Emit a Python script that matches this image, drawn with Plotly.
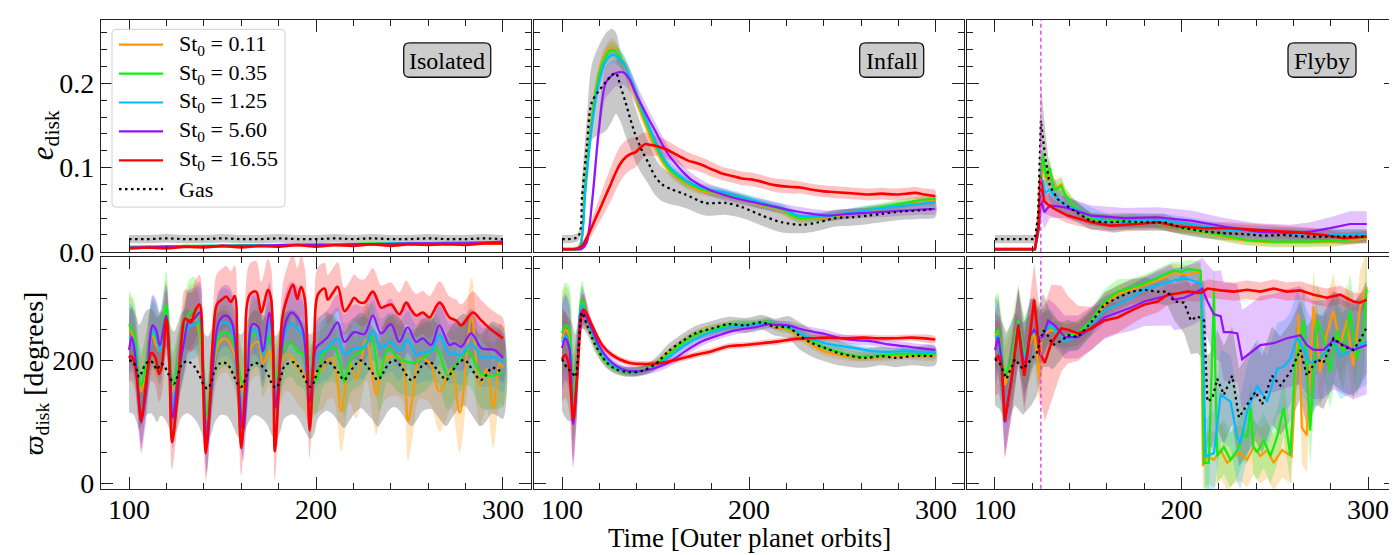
import plotly.graph_objects as go

W, H = 1397, 555

# ---------------- series meta ----------------
names = ["St<sub>0</sub> = 0.11", "St<sub>0</sub> = 0.35", "St<sub>0</sub> = 1.25",
         "St<sub>0</sub> = 5.60", "St<sub>0</sub> = 16.55", "Gas"]
line_colors = ['#ff9900', '#11ee11', '#00bbff', '#9411ff', '#ff0000', '#000000']
band_colors = ['rgba(255,153,0,0.25)', 'rgba(17,238,17,0.25)', 'rgba(0,187,255,0.25)',
               'rgba(148,17,255,0.25)', 'rgba(255,0,0,0.24)', 'rgba(110,110,110,0.38)']

# ================= Isolated, e_disk =================
iso_e_t = [100,110,120,130,140,150,160,170,180,190,200,210,220,230,240,250,260,270,280,290,300]
iso_e_orange = [0.004,0.005,0.005,0.006,0.006,0.006,0.007,0.007,0.007,0.008,0.008,0.008,0.008,0.009,0.009,0.009,0.009,0.010,0.010,0.010,0.010]
iso_e_green  = [0.006,0.006,0.006,0.007,0.007,0.007,0.008,0.008,0.008,0.009,0.009,0.009,0.009,0.010,0.010,0.010,0.010,0.011,0.011,0.011,0.011]
iso_e_cyan   = [0.005,0.006,0.006,0.006,0.007,0.007,0.007,0.008,0.008,0.008,0.009,0.009,0.009,0.009,0.010,0.010,0.010,0.010,0.011,0.011,0.011]
iso_e_purple = [0.005,0.005,0.006,0.006,0.006,0.007,0.007,0.007,0.008,0.008,0.008,0.008,0.009,0.009,0.009,0.010,0.010,0.010,0.010,0.011,0.012]
iso_e_red    = [0.004,0.005,0.004,0.006,0.005,0.007,0.005,0.007,0.006,0.008,0.006,0.008,0.007,0.009,0.007,0.009,0.008,0.009,0.008,0.010,0.010]
iso_e_gas    = [0.015,0.015,0.016,0.015,0.015,0.016,0.015,0.015,0.016,0.015,0.015,0.016,0.015,0.016,0.015,0.015,0.016,0.015,0.015,0.016,0.015]
iso_e_sd     = [0.0015,0.0015,0.0015,0.0015,0.0015,0.0015,0.0015,0.0015,0.0015,0.0015,0.0015,0.0015,0.0015,0.0015,0.0015,0.0015,0.0015,0.0015,0.0015,0.0015,0.0015]
iso_e_gas_sd = [0.005,0.005,0.005,0.005,0.005,0.005,0.005,0.005,0.005,0.005,0.005,0.005,0.005,0.005,0.005,0.005,0.005,0.005,0.005,0.005,0.005]

# ================= Infall, e_disk =================
inf_e_t1 = [100,104,108,110,112.5,116,119.6,123.2,125.8,128,130.3,133,135.7,138.5,141,144.5,148,150.8,153.5,158.8,
            166,174.9,185.6,196.3,207,217.6,226.6,235.5,244.4,253.3,261,269.3,276,283.6,291,299.6]
inf_e_orange = [0.003,0.003,0.003,0.010,0.085,0.162,0.212,0.235,0.243,0.242,0.232,0.222,0.205,0.190,0.172,0.152,0.133,0.120,0.108,0.093,
                0.081,0.072,0.068,0.062,0.055,0.049,0.039,0.040,0.041,0.045,0.048,0.051,0.054,0.057,0.059,0.061]
inf_e_green  = [0.003,0.003,0.003,0.009,0.080,0.158,0.208,0.232,0.239,0.239,0.233,0.224,0.209,0.194,0.177,0.156,0.137,0.123,0.111,0.095,
                0.083,0.074,0.069,0.063,0.056,0.050,0.040,0.041,0.042,0.046,0.049,0.052,0.055,0.058,0.061,0.063]
inf_e_cyan   = [0.003,0.003,0.003,0.008,0.072,0.150,0.200,0.226,0.233,0.234,0.230,0.223,0.210,0.196,0.180,0.160,0.141,0.127,0.114,0.098,
                0.085,0.076,0.071,0.065,0.058,0.052,0.043,0.042,0.043,0.046,0.049,0.051,0.053,0.055,0.057,0.059]
inf_e_sd1    = [0.002,0.002,0.002,0.004,0.008,0.010,0.010,0.010,0.010,0.010,0.010,0.010,0.010,0.009,0.009,0.008,0.008,0.007,0.007,0.006,
                0.006,0.005,0.005,0.005,0.005,0.005,0.005,0.005,0.005,0.005,0.005,0.005,0.005,0.005,0.005,0.005]
inf_e_tp = [100,108,110,113,116,119.6,123.2,126,128.5,133,136,139.2,142.8,146.3,150,153.5,157,160.6,165,169.5,
            178.4,189,199.8,210.5,223,233.7,242.6,253.3,261,269.3,276,283.6,291,299.6]
inf_e_purple = [0.003,0.003,0.003,0.010,0.058,0.143,0.200,0.208,0.212,0.213,0.205,0.189,0.173,0.158,0.143,0.128,0.115,0.105,0.094,0.085,
                0.074,0.066,0.060,0.055,0.049,0.045,0.043,0.045,0.046,0.047,0.048,0.049,0.050,0.051]
inf_e_purple_sd = [0.002,0.002,0.002,0.004,0.012,0.016,0.018,0.018,0.016,0.015,0.014,0.013,0.012,0.011,0.010,0.010,0.009,0.009,0.008,0.008,
                   0.007,0.007,0.006,0.006,0.006,0.006,0.006,0.006,0.006,0.006,0.006,0.006,0.006,0.006]
inf_e_tr = [100,105,108,110.7,114,117.8,120.5,123.2,126,128.5,131,133.9,136.5,139.2,142,144.6,147,149.9,155.3,160.6,
            164,167.7,171,174.9,180,185.6,191,196.3,201,207,212,217.6,223,228.3,233,239,245,251.5,258,264,
            271,278.3,284,288.9,294,299.6]
inf_e_red = [0.003,0.003,0.004,0.007,0.020,0.039,0.052,0.066,0.080,0.093,0.104,0.112,0.116,0.118,0.124,0.128,0.127,0.126,0.122,0.116,
             0.112,0.108,0.106,0.103,0.098,0.093,0.090,0.087,0.086,0.083,0.080,0.078,0.077,0.076,0.074,0.072,0.071,0.070,0.069,0.068,
             0.069,0.068,0.069,0.070,0.068,0.066]
inf_e_red_sd = [0.002,0.002,0.002,0.004,0.008,0.012,0.015,0.018,0.020,0.021,0.021,0.020,0.019,0.018,0.016,0.014,0.013,0.012,0.011,0.010,
                0.010,0.010,0.009,0.009,0.009,0.008,0.008,0.008,0.008,0.008,0.008,0.008,0.008,0.007,0.007,0.007,0.007,0.007,0.007,0.007,
                0.007,0.007,0.007,0.007,0.007,0.007]
inf_e_tg = [100,108.6,110.7,113.4,116,123.2,126.7,128.9,131.2,133.9,136.5,139.2,142.8,146.3,149.9,153.5,158.8,166,176.6,187.3,
            196.3,207,217.6,228.3,237.3,246.2,255.1,264,271.1,281.8,290.7,299.6]
inf_e_gas = [0.015,0.018,0.066,0.128,0.178,0.201,0.210,0.212,0.197,0.178,0.158,0.139,0.120,0.105,0.089,0.080,0.074,0.068,0.058,0.058,
             0.053,0.043,0.035,0.032,0.035,0.040,0.041,0.043,0.045,0.048,0.049,0.051]
inf_e_gas_sd = [0.005,0.005,0.020,0.035,0.045,0.058,0.055,0.048,0.042,0.040,0.035,0.032,0.028,0.025,0.022,0.020,0.018,0.016,0.015,0.014,
                0.013,0.012,0.012,0.010,0.010,0.010,0.010,0.010,0.010,0.010,0.010,0.010]

# ================= Flyby, e_disk =================
fly_e_tg = [100,121.4,123.1,124.6,125.3,127,129.4,133.8,140.9,151.6,160.5,169.4,180,190.7,201.4,212.1,222.8,233.5,244.1,254.8,
            265.5,276.2,286.8,299.3]
fly_e_gas = [0.015,0.015,0.043,0.156,0.143,0.112,0.078,0.062,0.051,0.036,0.035,0.036,0.035,0.035,0.028,0.024,0.022,0.021,0.019,0.020,
             0.018,0.018,0.018,0.018]
fly_e_gas_sd = [0.005,0.005,0.015,0.045,0.040,0.030,0.020,0.015,0.012,0.010,0.010,0.010,0.010,0.010,0.008,0.008,0.008,0.008,0.008,0.008,
                0.008,0.008,0.008,0.008]
fly_e_t1 = [100,121.4,123.5,125,125.8,126.5,127.5,129.4,130.5,132,133.5,135.6,137.5,141,146,151.6,160.3,170.9,185,196,
            210.3,224.5,235.2,249.4,267.2,281.5,292,299.3]
fly_e_green  = [0.003,0.003,0.030,0.100,0.116,0.100,0.089,0.100,0.085,0.074,0.075,0.078,0.068,0.058,0.047,0.039,0.037,0.036,0.035,0.030,
                0.024,0.018,0.014,0.012,0.012,0.013,0.015,0.018]
fly_e_orange = [0.003,0.003,0.028,0.090,0.105,0.095,0.085,0.095,0.083,0.075,0.077,0.080,0.068,0.058,0.047,0.039,0.037,0.036,0.035,0.030,
                0.024,0.017,0.013,0.011,0.011,0.012,0.014,0.016]
fly_e_sd1 = [0.002,0.002,0.008,0.015,0.015,0.014,0.013,0.013,0.012,0.011,0.010,0.010,0.009,0.008,0.008,0.007,0.007,0.007,0.007,0.007,
             0.006,0.006,0.006,0.006,0.006,0.006,0.006,0.006]
fly_e_tc = [100,121.4,123.5,125,125.8,127,129.4,133.8,138,151.6,160,164,172,180,190,201,212,225,240,255,270,285,299.3]
fly_e_cyan = [0.003,0.003,0.025,0.080,0.085,0.070,0.074,0.062,0.055,0.043,0.036,0.032,0.036,0.037,0.037,0.034,0.030,0.026,0.024,0.022,
              0.021,0.020,0.020]
fly_e_cyan_sd = [0.002,0.002,0.008,0.015,0.015,0.014,0.012,0.010,0.010,0.010,0.010,0.010,0.009,0.008,0.008,0.008,0.008,0.007,0.007,0.007,
                 0.007,0.007,0.007]
fly_e_tp = [100,121.4,123.5,124.8,126.4,129.4,137,151.6,169.4,187.2,205,222.8,240.6,258.4,269,279.7,290.4,299.3]
fly_e_purple = [0.003,0.003,0.030,0.062,0.047,0.055,0.053,0.043,0.040,0.041,0.037,0.030,0.024,0.022,0.024,0.028,0.033,0.033]
fly_e_purple_sd = [0.002,0.002,0.010,0.020,0.020,0.015,0.013,0.012,0.012,0.012,0.012,0.010,0.010,0.010,0.011,0.013,0.015,0.015]
fly_e_tr = [100,121.4,123.3,124.4,126.4,129,132,139,151.6,162.3,176.5,187.2,197.8,212,226,240.6,251.2,262,276,287,299.3]
fly_e_red = [0.003,0.003,0.030,0.089,0.060,0.055,0.051,0.043,0.035,0.031,0.033,0.035,0.030,0.028,0.028,0.026,0.024,0.023,0.020,0.016,0.018]
fly_e_red_sd = [0.002,0.002,0.010,0.020,0.015,0.012,0.010,0.009,0.008,0.008,0.008,0.008,0.007,0.007,0.007,0.007,0.007,0.007,0.007,0.007,0.007]

# ================= Isolated, varpi_disk =================
iso_w_t1 = [100,101.5,103,105.5,106.5,109,112.7,114.5,116.5,119.8,121.5,123.4,126,129.6,132,135,137.7,139.5,141.6,144,
            148.4,152,155,158,161,163.5,166,169,171.6,175,176.5,178.4,181,184.1,187,190,193,196.6,200,203.4,
            206.3,211.6,215.2,220.5,225.9,230.4,234.8,240,244.6,249,253.6,257,261.6,266,271.4,274,277.7,283,288.4,292,
            295.5,300]
iso_w_purple = [217,238,215,123,99,149,257,249,225,273,210,107,170,233,265,268,278,190,65,150,
                265,273,262,180,86,180,259,255,215,278,250,123,200,265,278,270,250,133,220,230,
                238,262,230,246,243,273,244,259,230,254,230,236,225,257,225,228,222,244,220,218,
                217,204]
iso_w_purple_sd = [50,50,50,50,50,50,50,50,50,50,50,50,50,50,50,50,50,50,50,50,
                   50,50,50,50,50,50,50,50,50,50,50,50,50,50,50,50,50,50,45,45,
                   45,45,45,45,45,42,42,42,42,42,40,40,40,40,40,40,40,40,40,40,
                   40,40]
iso_w_cyan = [238,235,225,140,120,160,250,240,215,265,215,120,175,230,255,258,265,190,75,160,
              258,262,250,185,100,185,250,245,210,262,240,140,200,250,260,252,240,150,205,215,
              220,236,210,220,222,249,220,230,215,233,210,214,215,241,210,212,208,228,205,205,
              205,196]
iso_w_cyan_sd = [55,55,55,55,55,55,55,55,55,55,55,55,55,55,55,55,55,55,55,55,
                 55,55,55,55,55,55,55,55,55,55,55,55,55,55,55,55,55,55,50,50,
                 50,50,50,50,50,48,48,48,48,48,48,48,48,48,48,48,48,48,48,48,
                 48,48]
iso_w_to = [100,101.5,103,105.5,106.5,109,112.7,114.5,116.5,119.8,121.5,123.4,126,129.6,132,135,137.7,139.5,141.6,144,
            148.4,152,155,158,161,163.5,166,169,171.6,175,176.5,178.4,181,184.1,187,190,193,196.6,
            200,203.7,206,209,213.5,218,221.5,226.9,232.3,235.8,240.3,245.7,249.2,251.9,255.5,260.8,266.2,272.4,276.9,283.2,
            287.6,291.2,294.8,298.3,300]
iso_w_orange = [250,245,230,160,150,185,240,225,215,275,220,150,185,235,265,270,240,190,105,165,
                230,235,220,190,150,195,225,230,195,215,200,150,190,210,205,190,180,160,
                180,186,200,203,117,196,170,233,144,196,207,202,102,143,202,196,149,186,115,270,
                159,186,123,196,188]
iso_w_orange_sd = [55,55,55,55,55,55,55,55,55,55,55,55,55,55,55,55,55,55,55,55,
                   55,55,55,55,55,55,55,55,55,55,60,60,60,60,60,60,60,60,
                   65,65,65,65,65,65,65,65,65,65,65,65,65,65,65,65,65,65,65,65,
                   65,65,65,65,65]
iso_w_tg = [100,101.5,103,105.5,106.5,109,112.7,114.5,116.5,119.8,121.5,123.4,126,129.6,132,135,137.7,139.5,141.6,144,
            148.4,152,155,158,161,163.5,166,169,171.6,175,176.5,178.4,181,184.1,187,190,193,196.6,
            200,204.5,209.8,212.5,215.2,218.8,224,229.5,233.9,238.4,243.8,248,252.7,258,264.3,270.5,275,281.3,288.4,293.8,300]
iso_w_green = [259,250,240,170,159,190,244,235,225,290,230,159,190,240,275,281,250,200,109,170,
               240,245,235,200,160,200,240,244,210,240,225,170,200,225,228,215,210,175,
               167,215,220,200,165,204,215,238,173,220,204,198,196,205,220,175,194,215,178,175,180]
iso_w_green_sd = [55,55,55,55,55,55,55,55,55,55,55,55,55,55,55,55,55,55,55,55,
                  55,55,55,55,55,55,55,55,55,55,55,55,55,55,55,55,55,55,
                  55,55,55,55,55,55,55,55,55,55,55,55,55,55,55,55,55,55,55,55,55]
iso_w_tr = [100,101,103,105.5,106.5,108,110,112,114,116,117.5,120,121.5,123,125.5,128,130,133,135.5,137.7,
            139.5,141,143,145,147,150,152,154.5,156.5,158,160,162,164.5,168,170.7,174.3,176,178,180,182,
            184,187.7,190,192,194,196.6,199,201,204.6,206.3,209,211.6,215.2,218,220.5,223,225.9,230.4,234.8,237,
            240.2,244.6,248.2,251,253.6,257.1,260.7,266.1,271.4,275,277.7,283.9,288.4,292.9,296.4,300]
iso_w_red = [204,207,196,128,101,133,185,212,205,178,190,267,200,67,130,230,268,262,282,291,
             170,49,120,240,291,300,304,295,305,200,57,150,307,312,278,315,300,52,150,270,
             296,323,300,320,300,86,220,307,317,299,310,320,280,290,302,295,294,312,286,288,
             291,275,294,282,273,278,270,294,270,265,257,278,265,252,244,236]
iso_w_red_sd = [40,40,42,45,45,45,45,45,45,45,45,48,48,45,45,48,48,48,48,48,
                45,45,45,48,50,50,50,50,50,45,45,45,50,50,50,50,50,45,45,48,
                50,50,50,50,50,45,45,45,42,40,40,40,38,38,38,38,38,38,36,36,
                36,36,36,35,35,35,35,35,34,34,34,34,33,33,33,33]
iso_w_tgas = [100,102,104,105.4,107,109,111.6,113,115,117,119,121,124,126,128,131,133,135,137,140,
              142,144,146,149,152,154,156,158,160,162,164,167,170,172,174,176,178.6,181,183,186,
              188,191,194,197,199,201,204,206,209,212,215,218,221,224,227,230,233,236,239,242,
              245,248,251,254,257,261.6,264,267,269.6,272,276,279.5,282,285,288,291,294,297,300]
iso_w_gas = [200,198,185,173,182,195,199,195,185,195,190,178,162,175,192,199,196,190,180,160,
             154,165,185,196,195,188,175,162,157,168,185,196,193,188,180,165,155,170,190,196,
             197,188,170,157,165,185,195,198,192,180,168,180,193,200,192,180,168,180,195,200,
             192,178,168,178,192,196,188,176,168,178,195,201,192,178,168,176,188,185,180]
iso_w_gas_sd = [85,85,85,85,85,85,85,85,85,85,85,85,85,85,85,85,85,85,85,85,
                 85,85,85,85,85,85,85,85,85,85,85,85,85,85,85,85,85,85,85,85,
                 85,85,85,85,85,80,80,80,80,80,78,78,78,78,78,76,76,76,76,76,
                 75,75,75,75,75,75,75,75,75,75,75,75,75,75,75,75,75,75,75]

# ================= Infall, varpi_disk =================
inf_w_t = [100,101.8,103.9,105.9,108,110.7,115.1,119.6,124.9,132,139.2,148.1,157,166,174.9,183.8,192.7,203.4,210.5,214,
           221.2,226.6,233.7,240.8,247.9,256.9,265.8,274.7,283.6,290.7,299.6]
inf_w_orange = [235,250,240,140,190,292,250,218,195,183,182,190,212,233,247,254,258,258,262,255,
                250,240,225,214,209,205,205,206,208,207,207]
inf_w_green  = [244,257,250,136,190,299,250,215,194,183,182,190,210,232,246,253,259,260,263,258,
                252,245,232,220,214,207,207,209,211,210,210]
inf_w_cyan   = [230,240,225,113,180,290,255,222,198,184,182,188,205,225,240,250,256,258,260,258,
                255,245,235,228,224,220,215,214,215,214,212]
inf_w_purple = [220,236,220,96,170,281,257,225,202,186,182,186,196,215,231,241,249,254,259,258,
                257,252,247,243,237,233,231,226,223,220,217]
inf_w_sd = [70,70,70,70,60,30,12,10,8,7,7,7,7,7,7,7,7,7,7,7,7,7,7,7,7,7,7,7,7,7,7]
inf_w_tr = [100,101.8,103.6,105.9,108,111.6,116,121.4,126.7,135.7,144.6,153.5,162.4,171.3,180.2,189.1,198,206.9,215.9,224.8,
            233.7,242.6,251.5,260.4,269.3,278.3,287.2,299.6]
inf_w_red = [202,209,192,104,170,283,257,225,209,196,194,196,202,209,215,223,225,228,231,235,
             236,237,236,237,236,236,237,234]
inf_w_red_sd = [70,70,70,70,60,25,8,6,5,5,5,5,5,5,5,5,5,5,5,5,5,5,5,5,5,5,5,5]
inf_w_tg = [100,102.7,105.3,107,108.9,110.7,113.4,117.8,123.2,128.5,135.7,142.8,149.9,157,164.2,171.3,180.2,189.1,198,206.9,
            214.1,221.2,226.6,233.7,240.8,247.9,255.1,262.2,271.1,278.3,287.2,299.6]
inf_w_gas = [202,188,181,173,220,278,257,225,199,186,181,183,194,215,231,244,252,259,257,262,
             254,254,241,228,220,212,207,204,207,204,207,207]
inf_w_gas_sd = [85,85,80,70,50,25,15,12,10,8,8,8,10,12,12,12,12,12,12,12,14,18,22,22,22,20,18,16,15,15,15,15]

# ================= Flyby, varpi_disk =================
fly_w_tr = [100,101.8,103.6,105.3,108.9,112.5,115.7,118.7,121,124,126.7,130.2,135.6,139.1,144.5,151.6,158.7,165.8,173,180.1,
            187.2,192.5,197.8,203.2,210.3,213.9,221,228.1,235.2,242.3,249.4,256.6,263.7,270.8,277.9,285,292.1,295.7,299.3]
fly_w_red = [202,207,191,102,170,257,175,240,299,212,196,228,252,250,244,252,265,270,281,291,
             296,307,309,312,310,317,314,312,315,312,317,312,314,307,302,307,296,294,299]
fly_w_red_sd = [60,60,60,60,60,60,60,60,60,70,95,95,70,55,45,35,28,25,22,20,
                18,17,16,15,15,15,15,15,15,15,15,15,15,15,15,15,15,15,15]
fly_w_tp = [100,101.8,103.6,105.3,108.9,112.5,115.7,118.7,121,124,126,128.5,132,137.4,144.5,151.6,158.7,165.8,173,180.1,
            187.2,194.3,196,201.4,206.7,211.2,213.9,217.4,221,222.7,226.3,229.9,232.5,237,242.3,249.4,256.6,263.7,267.2,270.8,
            276.1,281.5,286.8,292.1,299.3]
fly_w_purple = [217,238,200,99,170,259,186,240,250,235,240,265,257,238,238,252,270,278,286,296,
                302,307,299,302,309,317,296,275,272,246,246,244,202,212,225,228,236,241,225,217,
                217,233,225,217,225]
fly_w_purple_sd = [60,60,60,60,60,60,60,60,50,40,35,35,35,35,35,35,35,35,38,40,
                   45,50,50,50,50,50,60,70,75,80,80,80,80,80,80,80,80,80,80,80,
                   80,80,80,80,80]
fly_w_tc = [100,101.8,105.3,108.9,112.5,115.7,119,121,124,126,130.2,133,137.4,144.5,151.6,158.7,165.8,173,180.1,187.2,
            194.3,196,203.2,210.3,211.5,213,217.4,221,226.3,229.9,231.6,235.2,240.5,245.9,251.2,254.8,258.3,261.9,265.5,269,
            274.4,281.5,285,292.1,299.3]
fly_w_cyan = [238,240,107,180,254,200,240,249,230,245,258,245,231,238,259,281,291,302,315,323,
              328,331,333,325,250,44,49,144,133,75,65,117,159,133,186,190,202,238,217,196,
              202,233,207,217,231]
fly_w_cyan_sd = [60,60,60,60,60,60,60,55,45,35,25,22,20,20,20,20,20,20,20,20,
                 20,20,20,20,40,60,70,75,75,75,75,75,75,75,75,75,75,75,75,75,
                 70,70,70,70,70]
fly_w_tgr = [100,101.8,105.3,108.9,112.5,115.7,119,121,124,126,130.2,133,137.4,144.5,151.6,158.7,165.8,173,180.1,187.2,
             194.3,196,199.6,203.2,210.3,212.1,214.7,216.5,217.4,218.3,219.2,222.7,226.3,229.9,233,235.2,237,238.5,240.5,244.1,
             247.7,251.2,254.8,258.3,261,263.7,265.5,267.2,269,272.6,276.1,279.7,283.3,286.8,290.4,293.9,297.5,299.3]
fly_w_green = [244,250,175,200,265,210,235,250,240,250,255,245,240,245,265,296,312,318,325,335,
               344,346,344,349,346,33,33,200,317,150,44,59,38,54,80,75,123,60,50,70,
               44,75,123,45,196,233,265,196,86,265,238,181,249,212,281,202,238,317]
fly_w_green_sd = [60,60,60,60,60,60,60,55,45,35,25,22,20,20,20,20,20,15,15,15,
                  15,15,15,15,15,40,45,50,50,50,45,45,45,45,45,45,45,45,45,45,
                  45,45,45,45,50,55,60,60,60,60,60,60,60,60,60,60,60,60]
fly_w_to = [100,101.8,105.3,108.9,112.5,115.7,119,121,124,125,130.2,137.4,144.5,151.6,158.7,165.8,173,180.1,187.2,194.3,
            196,203.2,210.3,211.5,214,217.4,221,224.5,228.1,231.6,235.2,238.7,242.3,245.9,249.4,253.9,256.6,259,261,262.8,
            264.5,267.2,270.8,274.4,277.9,281.5,285,288.6,292.1,295.7,299.3]
fly_w_orange = [240,245,160,190,255,205,230,245,170,240,250,238,245,262,290,308,315,322,330,340,
                342,340,344,28,44,38,54,33,44,49,38,59,44,54,33,54,49,44,159,275,
                91,78,288,181,244,281,223,265,191,286,320]
fly_w_orange_sd = [60,60,60,60,60,60,60,55,45,40,25,20,20,20,18,15,15,15,15,15,
                   15,15,15,40,45,45,45,45,45,45,45,45,45,45,45,45,45,45,50,55,
                   60,60,60,60,60,60,60,60,60,60,60]
fly_w_tg = [100,102.5,106.2,108.9,110.7,115,119.5,122.4,125.8,128.5,131,135.6,139.1,144.5,151.6,158.7,165.8,173,180.1,187.2,
            192.5,196,201.4,205,208.5,212.1,213.9,216.5,219.2,222.7,227.2,230.8,235.2,239.7,243.2,248.5,253,258.3,263.7,267.2,
            272.6,276.1,281.5,286.8,292.1,295.7,299.3]
fly_w_gas = [202,196,170,190,202,186,202,212,249,240,225,232,241,238,262,291,302,312,315,312,
             312,296,294,265,272,265,133,138,170,144,175,107,128,149,128,175,159,181,217,175,
             202,196,236,223,217,233,254]
fly_w_gas_sd = [75,75,75,75,75,75,75,70,60,50,40,30,25,22,20,20,20,20,20,20,
                22,30,50,55,60,65,75,80,80,80,80,80,80,80,80,80,80,80,80,80,
                75,75,75,75,75,75,75]

flyby_time = [124.6]   # time of the flyby (dashed marker)

# (x axis, y axis, line shape, smoothing, series)
panels = [
    ('x', 'y', 'linear', 0, [(iso_e_t, iso_e_orange, iso_e_sd), (iso_e_t, iso_e_green, iso_e_sd), (iso_e_t, iso_e_cyan, iso_e_sd),
                (iso_e_t, iso_e_purple, iso_e_sd), (iso_e_t, iso_e_red, iso_e_sd), (iso_e_t, iso_e_gas, iso_e_gas_sd)]),
    ('x2', 'y2', 'spline', 0.8, [(inf_e_t1, inf_e_orange, inf_e_sd1), (inf_e_t1, inf_e_green, inf_e_sd1), (inf_e_t1, inf_e_cyan, inf_e_sd1),
                  (inf_e_tp, inf_e_purple, inf_e_purple_sd), (inf_e_tr, inf_e_red, inf_e_red_sd), (inf_e_tg, inf_e_gas, inf_e_gas_sd)]),
    ('x3', 'y3', 'linear', 0, [(fly_e_t1, fly_e_orange, fly_e_sd1), (fly_e_t1, fly_e_green, fly_e_sd1), (fly_e_tc, fly_e_cyan, fly_e_cyan_sd),
                  (fly_e_tp, fly_e_purple, fly_e_purple_sd), (fly_e_tr, fly_e_red, fly_e_red_sd), (fly_e_tg, fly_e_gas, fly_e_gas_sd)]),
    ('x4', 'y4', 'spline', 1.0, [(iso_w_to, iso_w_orange, iso_w_orange_sd), (iso_w_tg, iso_w_green, iso_w_green_sd), (iso_w_t1, iso_w_cyan, iso_w_cyan_sd),
                  (iso_w_t1, iso_w_purple, iso_w_purple_sd), (iso_w_tr, iso_w_red, iso_w_red_sd), (iso_w_tgas, iso_w_gas, iso_w_gas_sd)]),
    ('x5', 'y5', 'spline', 0.9, [(inf_w_t, inf_w_orange, inf_w_sd), (inf_w_t, inf_w_green, inf_w_sd), (inf_w_t, inf_w_cyan, inf_w_sd),
                  (inf_w_t, inf_w_purple, inf_w_sd), (inf_w_tr, inf_w_red, inf_w_red_sd), (inf_w_tg, inf_w_gas, inf_w_gas_sd)]),
    ('x6', 'y6', 'linear', 0, [(fly_w_to, fly_w_orange, fly_w_orange_sd), (fly_w_tgr, fly_w_green, fly_w_green_sd), (fly_w_tc, fly_w_cyan, fly_w_cyan_sd),
                  (fly_w_tp, fly_w_purple, fly_w_purple_sd), (fly_w_tr, fly_w_red, fly_w_red_sd), (fly_w_tg, fly_w_gas, fly_w_gas_sd)]),
]

GAS_DASH = '2.5px,3.5px'

fig = go.Figure()
for pi, (xa, ya, shape, smooth, series) in enumerate(panels):
    for k, (t, v, sd) in enumerate(series):
        if not (len(t) == len(v) == len(sd)):
            raise ValueError(f"length mismatch panel {pi} series {k}: {len(t)} {len(v)} {len(sd)}")
        hi = [a + b for a, b in zip(v, sd)]
        lo = [a - b for a, b in zip(v, sd)]
        ln = dict(width=0, shape=shape)
        if shape == 'spline':
            ln['smoothing'] = smooth
        fig.add_trace(go.Scatter(x=list(t) + list(t)[::-1], y=hi + lo[::-1], fill='toself',
                                 fillcolor=band_colors[k], line=ln,
                                 mode='lines', hoverinfo='skip', showlegend=False, xaxis=xa, yaxis=ya))
    for k, (t, v, sd) in enumerate(series):
        ln = dict(color=line_colors[k], width=2.6 if k == 4 else 2.2,
                  dash=GAS_DASH if k == 5 else 'solid', shape=shape)
        if shape == 'spline':
            ln['smoothing'] = smooth
        fig.add_trace(go.Scatter(x=t, y=v, mode='lines', name=names[k], line=ln,
                                 showlegend=False, xaxis=xa, yaxis=ya))

# ---------------- axes ----------------
def px2x(p):
    return p / W

def px2y(p):
    return 1 - p / H

xdoms = [[px2x(93), px2x(523)], [px2x(526), px2x(956)], [px2x(959), px2x(1388)]]
ydoms = [[px2y(251), px2y(12)], [px2y(495), px2y(256)]]
AX = '#222222'
serif = 'Liberation Serif, Times New Roman, serif'
tickfont = dict(family=serif, size=28, color='black')

layout_axes = {}
for row in range(2):
    for col in range(3):
        n = row * 3 + col + 1
        sx = '' if n == 1 else str(n)
        layout_axes['xaxis' + sx] = dict(
            domain=xdoms[col], anchor='y' + sx, range=[85, 315],
            tickvals=[100, 200, 300], ticktext=['100', '200', '300'],
            ticks='inside', ticklen=12, tickwidth=1.3, tickcolor=AX, ticklabelstandoff=-4,
            showline=True, linecolor=AX, linewidth=1.3, mirror='allticks',
            showticklabels=(row == 1), showgrid=False, zeroline=False, tickfont=tickfont,
            minor=dict(tickvals=[120, 140, 160, 180, 220, 240, 260, 280], ticks='inside', ticklen=6,
                       tickwidth=1.1, tickcolor=AX, showgrid=False))
        if row == 0:
            yd = dict(range=[0, 0.2757], tickvals=[0, 0.1, 0.2], ticktext=['0.0', '0.1', '0.2'],
                      minor=dict(tickvals=[0.02, 0.04, 0.06, 0.08, 0.12, 0.14, 0.16, 0.18, 0.22, 0.24, 0.26],
                                 ticks='inside', ticklen=6, tickwidth=1.1, tickcolor=AX, showgrid=False))
        else:
            yd = dict(range=[-9, 369], tickvals=[0, 200], ticktext=['0', '200'],
                      minor=dict(tickvals=[50, 100, 150, 250, 300, 350],
                                 ticks='inside', ticklen=6, tickwidth=1.1, tickcolor=AX, showgrid=False))
        yd.update(domain=ydoms[row], anchor='x' + sx, ticks='inside', ticklen=12, tickwidth=1.3,
                  tickcolor=AX, showline=True, linecolor=AX, linewidth=1.3, mirror='allticks',
                  showticklabels=(col == 0), showgrid=False, zeroline=False, tickfont=tickfont)
        layout_axes['yaxis' + sx] = yd

# ---------------- label boxes ----------------
def P(x, y):
    return f"{px2x(x):.5f},{px2y(y):.5f}"

def rrect(x0, y0, x1, y1, r):
    return (f"M {P(x0 + r, y0)} L {P(x1 - r, y0)} Q {P(x1, y0)} {P(x1, y0 + r)} "
            f"L {P(x1, y1 - r)} Q {P(x1, y1)} {P(x1 - r, y1)} L {P(x0 + r, y1)} "
            f"Q {P(x0, y1)} {P(x0, y1 - r)} L {P(x0, y0 + r)} Q {P(x0, y0)} {P(x0 + r, y0)} Z")

box_labels = ['Isolated', 'Infall', 'Flyby']
box_px = [(395.7, 36, 482.7, 71.3), (851.7, 36, 915.7, 71.3), (1280, 36, 1348, 71.3)]
shapes = []
annotations = []
for lab, (x0, y0, x1, y1) in zip(box_labels, box_px):
    shapes.append(dict(type='path', path=rrect(x0, y0, x1, y1, 6), xref='paper', yref='paper',
                       fillcolor='#cccccc', line=dict(color='#111111', width=1.3), layer='above'))
    annotations.append(dict(text=lab, x=px2x((x0 + x1) / 2), y=px2y((y0 + y1) / 2 + 1), xref='paper', yref='paper',
                            showarrow=False, xanchor='center', yanchor='middle',
                            font=dict(family=serif, size=24, color='black')))

for xa, ya in [('x3', 'y3'), ('x6', 'y6')]:
    for ft in flyby_time:
        shapes.append(dict(type='line', xref=xa, yref=ya + ' domain', x0=ft, x1=ft, y0=0, y1=1,
                           line=dict(color='#dd44dd', width=1.4, dash='4px,3px'), layer='above'))

# ---------------- legend (drawn as a framed key in panel 1) ----------------
leg_box = (104, 22, 277, 205)
leg_rows = [37.7, 67.5, 97.3, 127.0, 156.8, 186.6]
shapes.append(dict(type='path', path=rrect(*leg_box, 4), xref='paper', yref='paper',
                   fillcolor='rgba(255,255,255,0.85)', line=dict(color='#d0d0d0', width=1), layer='above'))
for k, yy in enumerate(leg_rows):
    shapes.append(dict(type='line', xref='paper', yref='paper', x0=px2x(111), x1=px2x(155),
                       y0=px2y(yy), y1=px2y(yy), layer='above',
                       line=dict(color=line_colors[k], width=2.2, dash=GAS_DASH if k == 5 else 'solid')))
    annotations.append(dict(text=names[k], x=px2x(169), y=px2y(yy), xref='paper', yref='paper',
                            showarrow=False, xanchor='left', yanchor='middle',
                            font=dict(family=serif, size=22, color='black')))

annotations += [
    dict(text='Time [Outer planet orbits]', x=px2x(741), y=px2y(546), xref='paper', yref='paper',
         showarrow=False, xanchor='center', yanchor='middle', font=dict(family=serif, size=27, color='black')),
    dict(text='<i>e</i><sub>disk</sub>', x=px2x(37), y=px2y(131), xref='paper', yref='paper', textangle=-90,
         showarrow=False, xanchor='center', yanchor='middle', font=dict(family=serif, size=31, color='black')),
    dict(text='<i>ϖ</i><sub>disk</sub> [degrees]', x=px2x(27), y=px2y(376), xref='paper', yref='paper', textangle=-90,
         showarrow=False, xanchor='center', yanchor='middle', font=dict(family=serif, size=28, color='black')),
]

fig.update_layout(
    width=W, height=H, autosize=False,
    margin=dict(l=0, r=0, t=0, b=0, pad=0),
    paper_bgcolor='white', plot_bgcolor='white',
    font=dict(family=serif, size=22, color='black'),
    showlegend=False,
    shapes=shapes, annotations=annotations,
    **layout_axes,
)

fig.write_html("out.html")
